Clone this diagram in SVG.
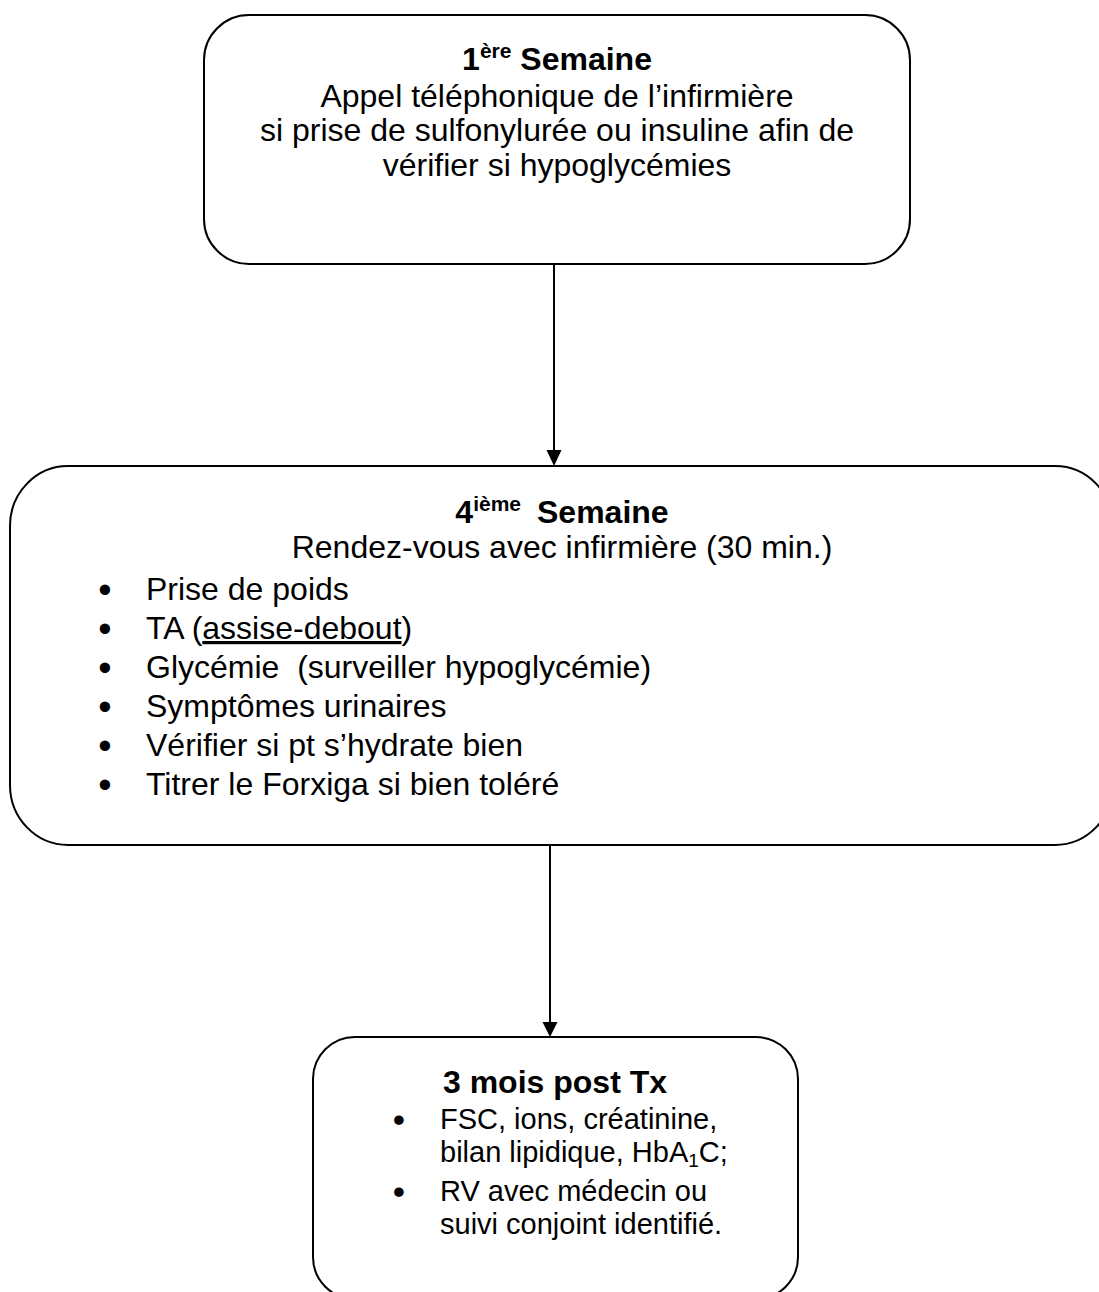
<svg xmlns="http://www.w3.org/2000/svg" width="1099" height="1292" viewBox="0 0 1099 1292">
<defs>
<style>
.box{fill:#fff;stroke:#000;stroke-width:2}
.t{font-family:"Liberation Sans",Arial,sans-serif;font-size:32px;fill:#000}
.b{font-weight:bold}
.c{text-anchor:middle}
.s{font-family:"Liberation Sans",Arial,sans-serif;font-size:29px;fill:#000}
.bul{font-family:"Liberation Sans",Arial,sans-serif;font-size:38px;fill:#000;text-anchor:middle}
.edge{stroke:#000;stroke-width:2;fill:none}
.head{fill:#000}
</style>
</defs>
<rect width="1099" height="1292" fill="#fff"/>
<g id="connectors">
<line class="edge" x1="554" y1="264" x2="554" y2="452"/>
<polygon class="head" points="546.5,450 561.5,450 554,466"/>
<line class="edge" x1="550" y1="846" x2="550" y2="1024"/>
<polygon class="head" points="542.5,1022 557.5,1022 550,1037"/>
</g>
<g id="node-semaine1">
<rect class="box" x="204" y="15" width="706" height="249" rx="45" ry="45"/>
<text class="t b c" x="557" y="70">1<tspan font-size="21" dy="-12">ère</tspan><tspan dy="12"> Semaine</tspan></text>
<text class="t c" x="557" y="107">Appel téléphonique de l’infirmière</text>
<text class="t c" x="557" y="141">si prise de sulfonylurée ou insuline afin de</text>
<text class="t c" x="557" y="176">vérifier si hypoglycémies</text>
</g>
<g id="node-semaine4">
<rect class="box" x="10" y="466" width="1103" height="379" rx="58" ry="60"/>
<text class="t b c" x="562" y="523">4<tspan font-size="21" dy="-12">ième</tspan><tspan dy="12" dx="16">Semaine</tspan></text>
<text class="t c" x="562" y="558">Rendez-vous avec infirmière (30 min.)</text>
<text class="bul" x="105" y="603">•</text>
<text class="t" x="146" y="600">Prise de poids</text>
<text class="bul" x="105" y="642">•</text>
<text class="t" x="146" y="639">TA (<tspan text-decoration="underline">assise-debout</tspan>)</text>
<text class="bul" x="105" y="681">•</text>
<text class="t" x="146" y="678" xml:space="preserve">Glycémie  (surveiller hypoglycémie)</text>
<text class="bul" x="105" y="720">•</text>
<text class="t" x="146" y="717">Symptômes urinaires</text>
<text class="bul" x="105" y="759">•</text>
<text class="t" x="146" y="756">Vérifier si pt s’hydrate bien</text>
<text class="bul" x="105" y="798">•</text>
<text class="t" x="146" y="795">Titrer le Forxiga si bien toléré</text>
</g>
<g id="node-3mois">
<rect class="box" x="313" y="1037" width="485" height="262" rx="42" ry="42"/>
<text class="t b c" x="555" y="1093">3 mois post Tx</text>
<text class="bul" x="399" y="1132" style="font-size:35px">•</text>
<text class="s" x="440" y="1129">FSC, ions, créatinine,</text>
<text class="s" x="440" y="1162">bilan lipidique, HbA<tspan font-size="19" dy="5">1</tspan><tspan dy="-5">C;</tspan></text>
<text class="bul" x="399" y="1204" style="font-size:35px">•</text>
<text class="s" x="440" y="1201">RV avec médecin ou</text>
<text class="s" x="440" y="1234">suivi conjoint identifié.</text>
</g>
</svg>
